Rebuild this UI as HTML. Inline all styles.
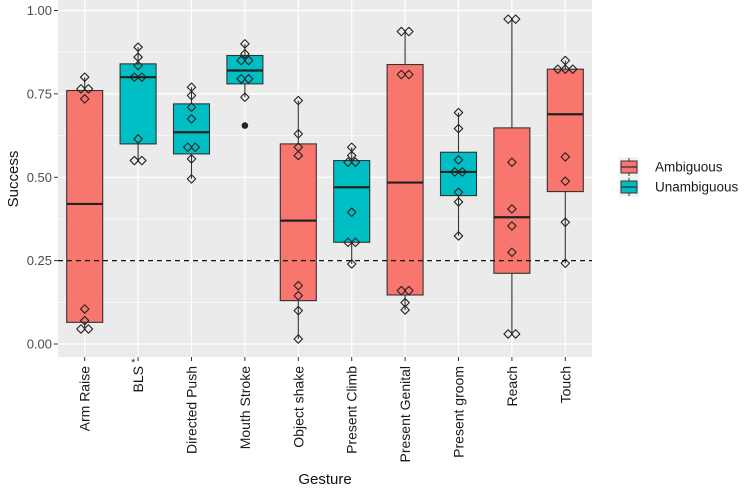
<!DOCTYPE html>
<html><head><meta charset="utf-8"><style>
body{margin:0;background:#fff;}
svg{display:block;font-family:"Liberation Sans",Arial,sans-serif;}
</style></head><body>
<svg id="chart" width="750" height="489" viewBox="0 0 750 489" xmlns="http://www.w3.org/2000/svg"></svg>
<script>
const categories=["Arm Raise","BLS","Directed Push","Mouth Stroke","Object shake","Present Climb","Present Genital","Present groom","Reach","Touch"];
const groups=["Ambiguous","Unambiguous","Unambiguous","Unambiguous","Ambiguous","Unambiguous","Ambiguous","Unambiguous","Ambiguous","Ambiguous"];
const q1=[0.065,0.60,0.57,0.78,0.13,0.305,0.147,0.445,0.212,0.457];
const medians=[0.42,0.80,0.635,0.82,0.37,0.47,0.484,0.516,0.38,0.689];
const q3=[0.76,0.84,0.72,0.865,0.60,0.55,0.838,0.575,0.648,0.824];
const whiskerLow=[0.045,0.55,0.495,0.74,0.015,0.24,0.102,0.324,0.03,0.242];
const whiskerHigh=[0.80,0.89,0.77,0.90,0.73,0.59,0.937,0.694,0.974,0.85];
const outliers=[[],[],[],[0.655],[],[],[],[],[],[]];
const points=[
[0.80,0.765,0.765,0.735,0.105,0.07,0.045,0.045],
[0.89,0.86,0.835,0.80,0.80,0.615,0.55,0.55],
[0.77,0.745,0.71,0.675,0.59,0.59,0.555,0.495],
[0.90,0.87,0.85,0.85,0.795,0.795,0.74],
[0.73,0.63,0.59,0.565,0.175,0.145,0.10,0.015],
[0.59,0.565,0.545,0.545,0.395,0.305,0.305,0.24],
[0.937,0.937,0.808,0.808,0.16,0.16,0.124,0.102],
[0.694,0.646,0.552,0.516,0.516,0.455,0.426,0.324],
[0.974,0.974,0.545,0.405,0.354,0.275,0.03,0.03],
[0.85,0.824,0.824,0.824,0.561,0.488,0.365,0.242]];
const yTicks=[0,0.25,0.5,0.75,1];
const yTickLabels=["0.00","0.25","0.50","0.75","1.00"];
const refLine=0.25;
const legendLabels=["Ambiguous","Unambiguous"];
const colors={Ambiguous:"#F8766D",Unambiguous:"#00BFC4"};

const svg=document.getElementById('chart');
const NS="http://www.w3.org/2000/svg";
const L=58,R=592,T=0,B=357;
const y=v=>344-333.5*v;
const step=(R-L)/categories.length;
const x=i=>L+step*(i+0.5);
function mk(tag,attrs,parent){const e=document.createElementNS(NS,tag);for(const k in attrs)e.setAttribute(k,attrs[k]);(parent||svg).appendChild(e);return e;}

const panel=mk('rect',{x:L,y:T,width:R-L,height:B-T,fill:'#EBEBEB'});


for(let i=0;i<yTicks.length-1;i++){const m=(yTicks[i]+yTicks[i+1])/2;const g=mk('line',{x1:L,x2:R,y1:y(m),y2:y(m),stroke:'#fff','stroke-width':0.6});

}
yTicks.forEach((t,i)=>{const g=mk('line',{x1:L,x2:R,y1:y(t),y2:y(t),stroke:'#fff','stroke-width':1.2});


mk('line',{x1:L-4,x2:L,y1:y(t),y2:y(t),stroke:'#333','stroke-width':1});
const tl=mk('text',{x:L-6,y:y(t)+4.5,'text-anchor':'end','font-size':13,fill:'#4D4D4D'});tl.textContent=yTickLabels[i];

});
categories.forEach((c,i)=>{const g=mk('line',{x1:x(i),x2:x(i),y1:T,y2:B,stroke:'#fff','stroke-width':1.2});

});

const hw=18;
categories.forEach((c,i)=>{
 const cx=x(i);
 const grp=mk('g',{});
 
 
 mk('line',{x1:cx,x2:cx,y1:y(whiskerHigh[i]),y2:y(whiskerLow[i]),stroke:'#333','stroke-width':1.1},grp);
 mk('rect',{x:cx-hw,y:y(q3[i]),width:2*hw,height:y(q1[i])-y(q3[i]),fill:colors[groups[i]],stroke:'#333','stroke-width':1.1},grp);
 mk('line',{x1:cx-hw,x2:cx+hw,y1:y(medians[i]),y2:y(medians[i]),stroke:'#222','stroke-width':2.2},grp);
 outliers[i].forEach(o=>mk('circle',{cx:cx,cy:y(o),r:3.3,fill:'#222'},grp));
 const seen={};
 points[i].forEach(p=>{const k=p.toFixed(3);seen[k]=(seen[k]||0)+1;});
 const cnt={};
 points[i].forEach(p=>{const k=p.toFixed(3);const n=seen[k];cnt[k]=(cnt[k]||0);const off=(cnt[k]-(n-1)/2)*7.5;cnt[k]++;
  const px=cx+off,py=y(p);
  const d=mk('path',{d:`M${px},${py-4.2}L${px+4.2},${py}L${px},${py+4.2}L${px-4.2},${py}Z`,fill:'none',stroke:'#222','stroke-width':1.1,'stroke-linejoin':'round'},grp);
  
  });
 mk('line',{x1:cx,x2:cx,y1:B,y2:B+4,stroke:'#333','stroke-width':1});
 const t=mk('text',{transform:`translate(${cx+5},${B+9}) rotate(-90)`,'text-anchor':'end','font-size':14,fill:'#1a1a1a'});
 t.textContent=c;
 
 
});
const ast=mk('text',{x:x(1)-7,y:B+9,'font-size':11,fill:'#333'});ast.textContent='*';



const ref=mk('line',{x1:L,x2:R,y1:y(refLine),y2:y(refLine),stroke:'#111','stroke-width':1.3,'stroke-dasharray':'5,4'});



const yt=mk('text',{transform:'translate(18,179) rotate(-90)','text-anchor':'middle','font-size':15,fill:'#111'});yt.textContent='Success';


const xt=mk('text',{x:325,y:484,'text-anchor':'middle','font-size':15,fill:'#111'});xt.textContent='Gesture';



legendLabels.forEach((lab,i)=>{
 const g=mk('g',{});
 
 
 const ky=157+i*20;
 mk('rect',{x:619,y:ky,width:20,height:20,fill:'#F2F2F2'},g);
 mk('line',{x1:629,x2:629,y1:ky+1,y2:ky+19,stroke:'#333','stroke-width':1},g);
 mk('rect',{x:621,y:ky+4,width:16,height:12,fill:colors[lab],stroke:'#333','stroke-width':1},g);
 mk('line',{x1:621,x2:637,y1:ky+10,y2:ky+10,stroke:'#333','stroke-width':1.3},g);
 const t=mk('text',{x:655,y:ky+14.5,'font-size':13.5,fill:'#1a1a1a'},g);t.textContent=lab;
});
</script>
</body></html>
